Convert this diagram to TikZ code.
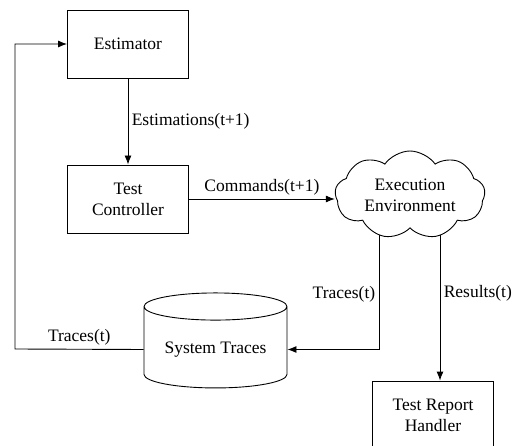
\documentclass[tikz,border=0pt]{standalone}
\usepackage{fontspec}
\setmainfont{Liberation Serif}
\usetikzlibrary{arrows.meta, shapes.symbols, shapes.geometric}
\begin{document}
\begin{tikzpicture}[x=1pt, y=-1pt, line width=0.9pt, >={Latex[length=9pt,width=7pt]},
    font=\fontsize{17.5}{21}\selectfont]
    \tikzset{%
      block/.style={draw, fill=white, minimum width=121pt, minimum height=68pt, align=center},
      store/.style={draw, cylinder, shape border rotate=90, aspect=0.25,
        minimum width=143pt, minimum height=95pt},
      env/.style={draw, fill=white, cloud, cloud puffs=9, cloud puff arc=110,
        aspect=1.9, inner sep=0pt, minimum width=150pt, minimum height=88pt, align=center}
      }
    \useasboundingbox (0,0) rectangle (514,446);

    \node [block] (Xest) at (128,44) {Estimator};
    \node [block] (Xctl) at (128,199) {Test\\Controller};
    \node [store] (Xtrc) at (215.5,349.5) {System Traces};
    \node [block] (Xrep) at (433,415) {Test Report\\Handler};

    \coordinate (Xtout) at (379,225);
    \coordinate (Xrout) at (440,225);
    \coordinate (Xback) at (15,349);
    \draw [->] (Xtout) |- node [pos=0.28, left] {Traces(t)} (Xtrc.east);
    \draw [->] (Xrout) -- node [pos=0.44, right] {Results(t)} (Xrout |- Xrep.north);

    \node [env] (Xenv) at (410,195) {Execution\\Environment};

    \draw [->] (Xest.south) -- node [right] {Estimations(t+1)} (Xctl.north);
    \draw [->] (Xctl.east) -- node [above] {Commands(t+1)} (Xctl.east -| Xenv.west);
    \draw [->] (Xtrc.west) -- node [above] {Traces(t)} (Xback) |- (Xest.west);
  \end{tikzpicture}
\end{document}
